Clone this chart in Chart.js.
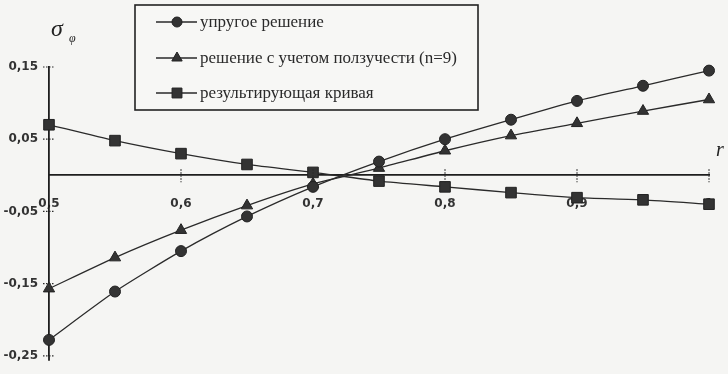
<!DOCTYPE html>
<html>
<head>
<meta charset="utf-8">
<script src="https://cdn.jsdelivr.net/npm/chart.js@4.4.1/dist/chart.umd.min.js"></script>
<style>
  html, body { margin: 0; padding: 0; background: #f5f5f3; }
  #wrap { width: 728px; height: 374px; }
</style>
</head>
<body>
<div id="wrap"><canvas id="c" width="728" height="374"></canvas></div>
<script>
// Relative radius r and hoop stress sigma_phi for three solutions
const radius    = [0.5, 0.55, 0.6, 0.65, 0.7, 0.75, 0.8, 0.85, 0.9, 0.95, 1.0];
const elastic   = [-0.228, -0.161, -0.105, -0.057, -0.016, 0.019, 0.050, 0.077, 0.103, 0.124, 0.145];
const creep     = [-0.157, -0.114, -0.076, -0.042, -0.012, 0.010, 0.034, 0.055, 0.072, 0.089, 0.105];
const resultant = [0.070, 0.048, 0.030, 0.015, 0.004, -0.008, -0.016, -0.024, -0.031, -0.034, -0.040];
const seriesNames = ['упругое решение', 'решение с учетом ползучести (n=9)', 'результирующая кривая'];
const seriesMarkers = ['circle', 'triangle', 'rect'];
const markerSizes = [5.5, 6.5, 7.5];
const xTicks = [0.5, 0.6, 0.7, 0.8, 0.9, 1];
const yTicks = [-0.25, -0.15, -0.05, 0.05, 0.15];

const INK = '#2a2a2a';
const fmt = v => String(v).replace('.', ',');
const tickFont = { family: 'DejaVu Sans', size: 12, weight: 'bold' };

function series(values, i) {
  return {
    label: seriesNames[i],
    data: radius.map((r, k) => ({ x: r, y: values[k] })),
    borderColor: INK,
    backgroundColor: '#333',
    borderWidth: 1.3,
    pointStyle: seriesMarkers[i],
    pointRadius: markerSizes[i],
    pointBackgroundColor: '#333',
    pointBorderColor: '#222',
    pointBorderWidth: 1,
    tension: 0.2,
    clip: false
  };
}

// Dotted tick marks across both axes, legend box and axis symbols
const decorations = {
  id: 'decorations',
  afterDraw(chart) {
    const { ctx, scales: { x, y } } = chart;
    const x0 = x.getPixelForValue(0.5);
    const y0 = y.getPixelForValue(0);
    ctx.save();
    // short stub of the vertical axis below its last tick
    ctx.strokeStyle = '#1e1e1e';
    ctx.lineWidth = 1.8;
    ctx.beginPath(); ctx.moveTo(x0, y.bottom); ctx.lineTo(x0, y.bottom + 5); ctx.stroke();

    ctx.strokeStyle = INK;
    ctx.lineWidth = 1.2;
    ctx.setLineDash([1.5, 1.5]);
    yTicks.forEach(v => {
      const py = y.getPixelForValue(v);
      ctx.beginPath(); ctx.moveTo(x0 - 6, py); ctx.lineTo(x0 + 6, py); ctx.stroke();
    });
    xTicks.slice(1).forEach(v => {
      const px = x.getPixelForValue(v);
      ctx.beginPath(); ctx.moveTo(px, y0 - 6); ctx.lineTo(px, y0 + 7); ctx.stroke();
    });
    ctx.setLineDash([]);

    // legend
    const bx = 135, by = 5, bw = 343, bh = 105;
    ctx.fillStyle = '#f7f7f5';
    ctx.fillRect(bx, by, bw, bh);
    ctx.lineWidth = 1.6;
    ctx.strokeStyle = '#222';
    ctx.strokeRect(bx, by, bw, bh);
    ctx.textBaseline = 'middle';
    ctx.textAlign = 'left';
    const rows = [22, 58, 93];
    chart.data.datasets.forEach((ds, i) => {
      const cy = rows[i];
      ctx.strokeStyle = INK;
      ctx.lineWidth = 1.3;
      ctx.beginPath(); ctx.moveTo(156, cy); ctx.lineTo(197, cy); ctx.stroke();
      ctx.fillStyle = '#333';
      ctx.strokeStyle = '#222';
      ctx.lineWidth = 1;
      Chart.helpers.drawPoint(ctx, {
        pointStyle: ds.pointStyle, radius: markerSizes[i] - 0.5, rotation: 0, borderWidth: 1
      }, 177, cy);
      ctx.fillStyle = '#2a2a2a';
      ctx.font = '17px "Liberation Serif", "Times New Roman", serif';
      ctx.fillText(ds.label, 200, cy + 1);
    });

    // axis symbols
    ctx.fillStyle = '#222';
    ctx.font = 'italic 24px "Liberation Serif", serif';
    ctx.fillText('σ', 51, 30);
    ctx.font = 'italic 12px "Liberation Serif", serif';
    ctx.fillText('φ', 69, 39);
    ctx.font = 'italic 20px "Liberation Serif", serif';
    ctx.fillText('r', 716, 151);
    ctx.restore();
  }
};

new Chart(document.getElementById('c'), {
  type: 'line',
  data: { datasets: [series(elastic, 0), series(creep, 1), series(resultant, 2)] },
  options: {
    responsive: false,
    animation: false,
    devicePixelRatio: 1,
    layout: { padding: { left: 0, top: 67, right: 19, bottom: 11 } },
    plugins: { legend: { display: false }, tooltip: { enabled: false } },
    scales: {
      x: {
        type: 'linear',
        min: 0.5, max: 1,
        position: { y: 0 },
        afterBuildTicks: s => { s.ticks = xTicks.map(v => ({ value: v })); },
        grid: { display: false, drawTicks: true, tickLength: 19 },
        border: { display: true, color: '#1e1e1e', width: 1.8 },
        ticks: {
          padding: 2,
          color: '#333',
          font: tickFont,
          callback: v => fmt(v),
          maxRotation: 0,
          autoSkip: false
        }
      },
      y: {
        type: 'linear',
        min: -0.25, max: 0.15,
        position: 'left',
        afterBuildTicks: s => { s.ticks = yTicks.map(v => ({ value: v })); },
        afterFit: s => { s.width = 49; },
        grid: { display: false, drawTicks: false },
        border: { display: true, color: '#1e1e1e', width: 1.8 },
        ticks: {
          padding: 11,
          color: '#333',
          font: tickFont,
          callback: v => fmt(v),
          autoSkip: false
        }
      }
    }
  },
  plugins: [decorations]
});
</script>
</body>
</html>
